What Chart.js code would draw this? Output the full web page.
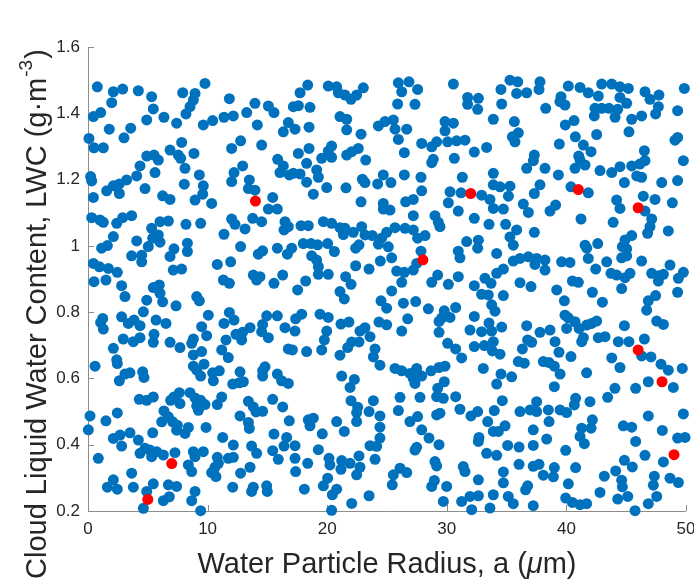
<!DOCTYPE html>
<html>
<head>
<meta charset="utf-8">
<title>LWC vs radius</title>
<script src="https://cdn.jsdelivr.net/npm/chart.js@4"></script>
<style>
    html, body { margin: 0; padding: 0; background: #fff; }
    #wrap { width: 694px; height: 583px; }
</style>
</head>
<body>
<div id="wrap"><canvas id="lwc-chart" width="694" height="583"></canvas></div>
<script>
// 散点数据 [半径 a (μm), LWC (g·m^-3)]
const bluePoints = [
    [0.78,1.480],[2.12,1.465],[2.90,1.473],[4.21,1.468],[5.32,1.450],[5.46,1.413],[7.92,1.462],[8.95,1.460],[8.81,1.440],[8.53,1.420],
    [8.19,1.398],[9.78,1.490],[1.98,1.432],[0.45,1.390],[1.06,1.402],[1.78,1.352],[3.57,1.355],[3.01,1.326],[4.91,1.380],[6.35,1.388],
    [7.41,1.370],[9.64,1.365],[10.42,1.378],[11.37,1.388],[12.15,1.392],[13.27,1.402],[13.96,1.430],[11.82,1.444],[15.08,1.422],[15.55,1.402],
    [14.16,1.365],[16.33,1.344],[16.75,1.372],[0.08,1.324],[0.50,1.296],[1.28,1.296],[7.83,1.312],[6.86,1.289],[7.55,1.274],[7.75,1.264],
    [8.86,1.279],[4.91,1.271],[5.52,1.274],[5.88,1.259],[4.35,1.241],[5.60,1.221],[8.11,1.234],[9.31,1.214],[12.01,1.294],[12.76,1.317],
    [14.52,1.304],[12.93,1.241],[12.21,1.221],[12.01,1.194],[13.49,1.199],[13.41,1.173],[13.96,1.168],[15.86,1.261],[16.33,1.241],[16.05,1.221],
    [16.83,1.214],[0.22,1.209],[0.31,1.196],[0.45,1.146],[1.56,1.166],[2.12,1.181],[2.62,1.187],[3.23,1.199],[4.07,1.211],[2.62,1.158],
    [4.77,1.173],[6.24,1.151],[6.86,1.140],[8.05,1.186],[9.64,1.181],[9.59,1.156],[8.95,1.138],[10.34,1.128],[15.44,1.146],
    [18.37,1.485],[17.73,1.462],[20.09,1.482],[20.79,1.480],[20.93,1.462],[21.49,1.455],[21.99,1.442],[22.46,1.455],[23.02,1.477],[25.95,1.492],
    [26.84,1.495],[26.23,1.465],[27.56,1.472],[30.55,1.488],[31.74,1.448],[32.64,1.445],[31.74,1.427],[32.58,1.412],[33.89,1.382],[17.17,1.420],
    [17.59,1.423],[18.56,1.418],[25.89,1.428],[27.34,1.427],[21.07,1.390],[21.63,1.382],[17.31,1.352],[18.48,1.358],[21.63,1.350],[22.83,1.337],
    [24.28,1.362],[24.83,1.375],[25.53,1.380],[25.67,1.352],[26.65,1.352],[25.95,1.321],[29.85,1.375],[30.55,1.370],[29.85,1.347],[27.90,1.309],
    [28.74,1.299],[29.15,1.314],[30.07,1.314],[30.82,1.317],[31.52,1.319],[32.30,1.283],[33.33,1.297],[20.37,1.301],[20.09,1.286],[19.54,1.264],
    [20.37,1.267],[21.63,1.274],[22.05,1.284],[22.60,1.294],[23.22,1.259],[18.48,1.294],[17.59,1.279],[18.28,1.249],[26.45,1.281],[28.87,1.261],
    [28.74,1.251],[30.63,1.264],[17.17,1.219],[17.73,1.217],[19.12,1.229],[19.26,1.207],[18.28,1.192],[19.96,1.176],[18.84,1.156],[21.57,1.175],
    [22.94,1.201],[23.16,1.191],[24.22,1.187],[24.69,1.214],[25.33,1.191],[26.45,1.214],[27.84,1.207],[27.90,1.166],[31.30,1.207],[30.27,1.163],
    [31.19,1.160],[32.91,1.153],[33.61,1.140],[33.89,1.184],[33.89,1.219],[22.83,1.133],[24.69,1.128],[26.56,1.133],[27.20,1.140],[30.13,1.130],
    [35.28,1.500],[35.93,1.495],[37.79,1.495],[37.71,1.472],[34.53,1.472],[35.84,1.460],[36.68,1.462],[34.59,1.428],[40.16,1.482],[41.14,1.478],
    [41.83,1.462],[42.95,1.488],[43.79,1.488],[44.48,1.480],[45.18,1.475],[42.67,1.452],[44.48,1.448],[45.04,1.430],[46.57,1.465],[46.99,1.442],
    [47.74,1.455],[49.86,1.475],[39.55,1.450],[39.46,1.435],[39.88,1.425],[38.27,1.415],[42.39,1.415],[42.95,1.415],[43.56,1.415],[44.29,1.412],
    [42.33,1.392],[44.07,1.388],[45.46,1.382],[46.29,1.392],[47.69,1.420],[47.46,1.398],[49.30,1.408],[35.65,1.375],[35.98,1.341],[35.48,1.329],
    [35.70,1.314],[39.91,1.365],[40.64,1.378],[40.75,1.329],[42.53,1.336],[45.23,1.344],[39.41,1.307],[41.42,1.304],[42.06,1.284],[41.03,1.271],
    [41.14,1.259],[41.56,1.244],[40.72,1.234],[37.32,1.274],[37.24,1.257],[36.68,1.234],[38.21,1.234],[34.45,1.178],[35.28,1.180],[39.33,1.214],
    [37.79,1.184],[37.32,1.158],[35.15,1.150],[42.81,1.227],[43.79,1.221],[44.48,1.239],[45.46,1.241],[46.15,1.247],[46.57,1.257],[46.52,1.287],
    [45.88,1.211],[46.29,1.207],[44.85,1.191],[47.97,1.191],[49.30,1.197],[49.08,1.319],[49.30,1.327],[49.78,1.257],[40.38,1.178],[41.83,1.160],
    [44.20,1.138],[46.43,1.150],[47.41,1.140],[48.86,1.130],[36.40,1.126],[39.10,1.123],
    [0.31,1.085],[1.00,1.078],[1.28,1.071],[2.40,1.068],[2.90,1.085],[3.65,1.091],[6.02,1.073],[6.72,1.075],[8.19,1.065],[9.42,1.068],
    [12.01,1.081],[12.29,1.065],[13.13,1.051],[13.77,1.083],[14.52,1.073],[15.08,1.111],[15.83,1.111],[16.47,1.073],[16.39,1.048],[16.75,1.058],
    [2.12,1.028],[1.14,0.993],[1.62,1.001],[3.65,0.970],[4.07,1.015],[4.49,0.972],[4.49,0.952],[5.04,0.998],[5.32,1.053],[5.41,1.023],
    [5.88,1.033],[6.02,1.011],[7.19,0.991],[6.86,0.968],[8.31,1.008],[8.31,0.983],[11.37,1.035],[12.76,0.998],[14.24,0.975],[14.60,0.985],
    [15.83,0.993],[16.67,0.975],[0.45,0.947],[0.95,0.937],[1.70,0.932],[2.45,0.920],[0.50,0.892],[1.50,0.897],[2.81,0.880],[3.09,0.847],
    [7.13,0.927],[7.83,0.930],[10.81,0.944],[11.93,0.952],[11.32,0.897],[11.82,0.887],[13.82,0.912],[14.38,0.907],[14.10,0.897],[15.55,0.887],
    [16.28,0.912],[5.46,0.874],[5.96,0.882],[6.02,0.857],[6.24,0.831],[4.91,0.836],[4.63,0.801],[7.36,0.819],[9.09,0.847],[9.31,0.834],
    [1.23,0.781],[1.06,0.769],[1.28,0.749],[2.81,0.786],[3.37,0.766],[3.85,0.776],[4.35,0.759],[5.69,0.776],[6.52,0.766],[10.06,0.791],
    [9.50,0.756],[9.92,0.729],[11.37,0.766],[11.82,0.799],[12.21,0.776],[13.55,0.753],[14.60,0.763],[14.94,0.789],[14.52,0.741],[15.83,0.789],
    [16.47,0.753],[2.95,0.719],[3.79,0.711],[4.35,0.723],[5.52,0.733],[5.46,0.709],[6.86,0.709],[7.69,0.693],[8.81,0.719],[8.67,0.706],
    [9.50,0.681],[2.12,0.691],[11.54,0.716],[12.37,0.733],[12.93,0.739],[12.85,0.716],[15.08,0.723],[11.18,0.686],[11.73,0.663],[16.75,0.689],
    [2.40,0.656],
    [24.69,1.111],[25.25,1.108],[27.20,1.091],[29.01,1.091],[29.29,1.071],[29.43,1.058],[30.96,1.105],[32.30,1.083],[33.53,1.065],[33.89,1.113],
    [17.81,1.061],[18.42,1.061],[19.68,1.073],[20.37,1.068],[21.07,1.055],[21.49,1.053],[21.35,1.034],[22.18,1.041],[22.88,1.058],[23.16,1.033],
    [23.77,1.031],[24.55,1.023],[24.97,1.041],[25.67,1.055],[26.51,1.053],[27.20,1.048],[27.56,1.023],[28.18,1.031],[25.11,0.997],[24.28,1.005],
    [22.66,1.003],[22.38,0.993],[20.60,0.983],[20.04,1.007],[19.20,1.003],[18.65,1.007],[18.00,1.007],[17.03,0.993],[18.70,0.970],[19.12,0.957],
    [19.26,0.937],[19.26,0.914],[20.09,0.914],[22.38,0.940],[23.50,0.930],[24.44,0.954],[25.39,0.964],[25.81,0.924],[26.45,0.920],[27.20,0.927],
    [27.48,0.947],[27.84,0.984],[26.23,0.890],[18.20,0.894],[17.53,0.867],[21.07,0.862],[21.54,0.907],[21.99,0.884],[21.43,0.840],[24.50,0.834],
    [24.97,0.812],[25.39,0.864],[26.37,0.827],[27.40,0.832],[28.46,0.810],[28.74,0.890],[29.24,0.912],[30.13,0.884],[30.96,0.907],[31.66,1.013],
    [30.96,0.984],[31.10,0.964],[32.64,1.017],[32.58,0.993],[32.30,0.880],[33.19,0.902],[33.70,0.887],[33.47,0.852],[32.91,0.854],[33.75,0.822],
    [29.79,0.804],[30.74,0.814],[29.57,0.782],[29.35,0.772],[30.27,0.784],[32.30,0.787],[19.40,0.794],[20.09,0.784],[17.87,0.794],[17.36,0.780],
    [17.31,0.743],[21.15,0.764],[21.82,0.770],[24.33,0.770],[24.97,0.762],[26.73,0.780],[26.23,0.743],[22.74,0.743],[23.16,0.753],[23.58,0.726],
    [19.96,0.743],[19.76,0.716],[22.05,0.710],[22.66,0.710],[29.35,0.739],[31.94,0.746],[32.91,0.741],[33.75,0.743],[30.07,0.706],[30.74,0.689],
    [32.30,0.696],[33.14,0.699],[33.89,0.711],[17.09,0.686],[18.28,0.681],[19.54,0.686],[21.07,0.670],[24.00,0.689],[23.86,0.665],[21.71,0.693],
    [31.24,0.662],
    [36.82,1.101],[38.63,1.105],[34.73,1.111],[44.48,1.113],[46.57,1.105],[47.13,1.081],[46.99,1.058],[46.79,1.038],[48.52,1.045],[41.22,1.081],
    [43.91,1.071],[45.46,1.031],[44.90,1.018],[44.68,0.998],[45.04,0.991],[44.62,0.964],[45.04,0.970],[34.92,1.065],[35.84,1.048],[35.28,1.027],
    [35.56,1.002],[37.32,1.041],[34.17,0.977],[41.56,1.002],[41.70,0.993],[42.62,1.007],[41.83,0.962],[43.37,0.952],[42.45,0.930],[43.73,0.917],
    [44.20,0.912],[44.90,0.904],[45.32,0.917],[44.62,0.871],[46.29,0.954],[48.66,0.942],[49.78,0.920],[49.36,0.902],[47.13,0.917],[47.69,0.910],
    [48.11,0.914],[47.69,0.894],[49.30,0.860],[35.56,0.954],[36.12,0.962],[36.82,0.967],[37.51,0.962],[38.21,0.957],[37.37,0.944],[38.21,0.927],
    [39.60,0.952],[40.30,0.950],[34.73,0.930],[34.17,0.917],[36.12,0.889],[37.04,0.877],[39.19,0.867],[40.50,0.894],[41.00,0.890],[42.17,0.860],
    [43.01,0.830],[39.83,0.834],[34.73,0.850],[34.03,0.803],[39.88,0.791],[40.16,0.783],[40.72,0.771],[41.70,0.761],[42.53,0.773],[42.11,0.766],
    [41.06,0.751],[46.85,0.834],[47.46,0.850],[46.71,0.806],[47.55,0.773],[48.11,0.763],[44.85,0.759],[36.68,0.759],[37.79,0.739],[34.59,0.755],
    [33.53,0.767],[38.63,0.746],[39.05,0.711],[36.76,0.716],[37.10,0.709],[40.02,0.751],[41.42,0.723],[41.28,0.711],[42.67,0.723],[43.23,0.726],
    [44.34,0.711],[45.23,0.711],[46.52,0.719],[33.81,0.683],[34.45,0.673],[36.32,0.689],[39.38,0.679],[40.38,0.666],[43.79,0.662],[46.29,0.668],
    [47.07,0.665],
    [8.81,0.671],[0.59,0.637],[2.45,0.645],[3.09,0.613],[3.51,0.617],[2.62,0.593],[4.57,0.620],[4.68,0.603],[8.81,0.637],[9.09,0.625],
    [9.70,0.643],[10.42,0.617],[10.48,0.593],[10.98,0.623],[9.42,0.607],[12.71,0.620],[12.10,0.583],[12.65,0.587],[12.99,0.590],[14.60,0.623],
    [14.60,0.607],[14.80,0.635],[15.83,0.613],[16.19,0.593],[16.75,0.585],[4.29,0.537],[4.91,0.534],[5.46,0.544],[6.91,0.534],[7.19,0.544],
    [7.64,0.557],[8.53,0.557],[8.95,0.541],[9.42,0.534],[9.23,0.504],[9.78,0.521],[9.09,0.517],[7.69,0.524],[11.18,0.544],[10.81,0.521],
    [13.41,0.531],[13.82,0.514],[14.05,0.499],[14.60,0.501],[15.44,0.537],[16.28,0.514],[16.83,0.472],[0.17,0.487],[0.03,0.445],[1.50,0.472],
    [2.45,0.496],[6.35,0.502],[6.16,0.469],[6.72,0.484],[7.08,0.469],[7.47,0.459],[7.41,0.444],[8.11,0.434],[8.39,0.452],[9.87,0.452],
    [5.41,0.436],[3.51,0.436],[2.68,0.429],[2.12,0.419],[2.81,0.396],[12.71,0.487],[13.41,0.467],[13.49,0.449],[15.55,0.432],[16.61,0.422],
    [16.39,0.396],[11.26,0.422],[12.15,0.399],[13.68,0.396],[14.10,0.374],[15.44,0.382],[15.91,0.356],[0.86,0.359],[4.21,0.414],[4.35,0.374],
    [4.77,0.389],[5.18,0.384],[5.32,0.364],[5.74,0.379],[6.30,0.369],[7.27,0.376],[8.81,0.379],[9.64,0.379],[8.95,0.364],[10.81,0.362],
    [10.90,0.344],[11.73,0.359],[12.15,0.362],[8.39,0.339],[8.67,0.319],[10.34,0.316],[10.70,0.304],[10.62,0.332],[12.76,0.314],[13.55,0.332],
    [3.65,0.314],[2.12,0.294],[1.62,0.272],[2.45,0.266],[3.79,0.272],[5.46,0.282],[6.72,0.279],[7.41,0.274],[8.95,0.259],[8.67,0.231],
    [12.10,0.272],[13.68,0.259],[13.82,0.272],[14.94,0.276],[14.99,0.259],[6.80,0.243],[6.30,0.231],[4.91,0.259],[4.63,0.208],[9.42,0.201],
    [24.41,0.640],[25.67,0.630],[26.23,0.623],[26.92,0.615],[27.48,0.630],[27.20,0.600],[27.34,0.585],[27.90,0.607],[28.68,0.623],[29.35,0.633],
    [29.85,0.637],[33.05,0.630],[21.21,0.607],[22.27,0.597],[21.91,0.573],[29.79,0.590],[29.24,0.570],[29.15,0.545],[29.71,0.540],[30.74,0.545],
    [26.09,0.543],[27.76,0.543],[23.86,0.533],[21.99,0.533],[22.55,0.513],[22.46,0.497],[23.50,0.500],[24.41,0.487],[25.95,0.503],[31.10,0.507],
    [32.02,0.487],[32.58,0.500],[33.42,0.470],[33.89,0.440],[29.15,0.490],[29.43,0.495],[27.56,0.485],[26.92,0.470],[27.90,0.445],[28.51,0.420],
    [29.35,0.400],[24.41,0.453],[24.41,0.420],[24.14,0.395],[23.58,0.397],[22.46,0.470],[21.43,0.440],[20.79,0.470],[18.42,0.475],[18.84,0.480],
    [18.56,0.457],[19.59,0.433],[17.31,0.397],[19.26,0.385],[17.31,0.359],[18.37,0.344],[17.36,0.319],[20.15,0.359],[20.23,0.339],[21.21,0.352],
    [21.91,0.344],[22.66,0.366],[22.74,0.332],[22.46,0.309],[21.15,0.326],[24.00,0.356],[27.34,0.384],[27.48,0.392],[29.01,0.349],[29.15,0.336],
    [32.69,0.422],[32.64,0.410],[33.33,0.374],[31.38,0.334],[31.52,0.319],[32.64,0.294],[26.09,0.329],[26.65,0.316],[25.53,0.309],[25.44,0.279],
    [20.04,0.299],[19.68,0.276],[20.79,0.266],[20.43,0.249],[18.09,0.266],[22.05,0.223],[23.50,0.246],[28.74,0.274],[28.96,0.292],[29.99,0.274],
    [29.71,0.229],[31.24,0.229],[31.94,0.244],[32.64,0.246],[32.08,0.204],[33.61,0.209],[33.89,0.249],[20.37,0.202],
    [35.98,0.651],[36.48,0.646],[38.07,0.651],[38.55,0.648],[38.99,0.637],[39.47,0.613],[41.69,0.617],[44.48,0.633],[47.91,0.643],[48.52,0.625],
    [49.69,0.630],[34.53,0.613],[35.42,0.605],[34.17,0.583],[38.99,0.575],[44.06,0.570],[43.45,0.543],[45.79,0.570],[46.85,0.590],[48.94,0.573],
    [34.64,0.533],[33.97,0.503],[34.31,0.440],[34.87,0.457],[36.12,0.500],[36.96,0.505],[37.51,0.500],[37.51,0.530],[38.49,0.505],[38.55,0.470],
    [39.47,0.505],[40.02,0.497],[40.66,0.520],[40.77,0.540],[41.97,0.530],[42.17,0.475],[42.06,0.450],[41.28,0.450],[41.14,0.425],[41.50,0.403],
    [37.23,0.445],[38.35,0.417],[49.78,0.493],[46.85,0.487],[44.76,0.457],[45.46,0.453],[48.02,0.443],[45.79,0.410],[49.30,0.420],[49.92,0.422],
    [34.17,0.368],[35.09,0.398],[36.04,0.393],[37.23,0.398],[39.94,0.383],[46.57,0.368],[48.11,0.348],[44.85,0.353],[45.51,0.333],[36.04,0.341],
    [37.23,0.335],[37.71,0.341],[34.73,0.318],[34.73,0.285],[38.07,0.308],[38.91,0.303],[38.99,0.331],[40.77,0.331],[40.16,0.282],[43.17,0.305],
    [44.12,0.321],[44.62,0.293],[44.68,0.273],[47.35,0.305],[47.27,0.278],[48.66,0.299],[49.36,0.286],[36.76,0.276],[36.59,0.264],[35.14,0.244],
    [35.56,0.222],[37.23,0.216],[39.94,0.239],[40.50,0.226],[41.14,0.219],[41.69,0.222],[42.81,0.256],[44.29,0.236],[45.13,0.244],[45.74,0.201],
    [46.85,0.222],[47.55,0.244]
];

// 红色标记点
const redX = [5, 7, 14, 28, 32, 41, 46, 46, 48, 49];
const redY = [0.235, 0.343, 1.135, 0.958, 1.158, 1.170, 1.115, 0.686, 0.590, 0.370];

// 刻度
const xTicks = [0, 10, 20, 30, 40, 50];
const xTickLabels = ['0', '10', '20', '30', '40', '50'];
const yTicks = [0.2, 0.4, 0.6, 0.8, 1.0, 1.2, 1.4, 1.6];
const yTickLabels = ['0.2', '0.4', '0.6', '0.8', '1', '1.2', '1.4', '1.6'];

const FONT = '"Liberation Sans", Arial, Helvetica, sans-serif';
const TEXT_COLOR = '#262626';
const AXIS_COLOR = '#8c8c8c';
const TITLE_SIZE = 29;

// 坐标轴线和朝内的刻度线（画在点的下面）
const axesPlugin = {
    id: 'matlabAxes',
    beforeDatasetsDraw(chart) {
        const ctx = chart.ctx;
        const area = chart.chartArea;
        const xs = chart.scales.x;
        const ys = chart.scales.y;
        ctx.save();
        ctx.strokeStyle = AXIS_COLOR;
        ctx.lineWidth = 1;
        ctx.beginPath();
        ctx.moveTo(Math.round(area.left) + 0.5, area.top);
        ctx.lineTo(Math.round(area.left) + 0.5, Math.round(area.bottom) + 0.5);
        ctx.lineTo(area.right, Math.round(area.bottom) + 0.5);
        xTicks.forEach(v => {
            const px = Math.round(xs.getPixelForValue(v)) + 0.5;
            ctx.moveTo(px, Math.round(area.bottom));
            ctx.lineTo(px, Math.round(area.bottom) - 6);
        });
        yTicks.forEach(v => {
            const py = Math.round(ys.getPixelForValue(v)) + 0.5;
            ctx.moveTo(Math.round(area.left), py);
            ctx.lineTo(Math.round(area.left) + 6, py);
        });
        ctx.stroke();
        ctx.restore();
    },
    afterDraw(chart) {
        const ctx = chart.ctx;
        const area = chart.chartArea;
        ctx.save();
        ctx.fillStyle = TEXT_COLOR;
        ctx.textBaseline = 'alphabetic';
        ctx.textAlign = 'left';
        const big = TITLE_SIZE + 'px ' + FONT;
        const bigItalic = 'italic ' + TITLE_SIZE + 'px ' + FONT;
        const small = '19px ' + FONT;

        // x 轴标题
        const xMain = 'Water Particle Radius, a (';
        const xMu = '\u03bc';
        const xEnd = 'm)';
        ctx.font = big;
        const w1 = ctx.measureText(xMain).width;
        const w3 = ctx.measureText(xEnd).width;
        ctx.font = bigItalic;
        const w2 = ctx.measureText(xMu).width;
        const x0 = (area.left + area.right) / 2 - (w1 + w2 + w3) / 2;
        const xBase = 573;
        ctx.font = big;
        ctx.fillText(xMain, x0, xBase);
        ctx.font = bigItalic;
        ctx.fillText(xMu, x0 + w1, xBase);
        ctx.font = big;
        ctx.fillText(xEnd, x0 + w1 + w2, xBase);

        // y 轴标题（带上标 -3）
        const yMain = 'Cloud Liquid Water Content, LWC (g\u00b7m';
        const ySup = '-3';
        const yEnd = ')';
        ctx.font = big;
        const m1 = ctx.measureText(yMain).width;
        ctx.font = small;
        const m2 = ctx.measureText(ySup).width;
        ctx.translate(46, 579);
        ctx.rotate(-Math.PI / 2);
        ctx.font = big;
        ctx.fillText(yMain, 0, 0);
        ctx.font = small;
        ctx.fillText(ySup, m1 + 1, -14);
        ctx.font = big;
        ctx.fillText(yEnd, m1 + m2 + 2, 0);
        ctx.restore();
    }
};

const chart = new Chart(document.getElementById('lwc-chart'), {
    type: 'scatter',
    data: {
        datasets: [
            {
                label: 'red',
                data: redX.map((x, i) => ({ x: x, y: redY[i] })),
                backgroundColor: '#ff0000',
                borderWidth: 0,
                pointRadius: 5.5,
                clip: false
            },
            {
                label: 'blue',
                data: bluePoints.map(p => ({ x: p[0], y: p[1] })),
                backgroundColor: '#0072bd',
                borderWidth: 0,
                pointRadius: 5.5,
                clip: false
            }
        ]
    },
    options: {
        responsive: false,
        animation: false,
        events: [],
        layout: { padding: { left: 0, right: 8, top: 47, bottom: 0 } },
        plugins: {
            legend: { display: false },
            tooltip: { enabled: false }
        },
        scales: {
            x: {
                type: 'linear',
                min: 0,
                max: 50,
                afterBuildTicks: s => { s.ticks = xTicks.map(v => ({ value: v })); },
                afterFit: s => {
                    s.height = 72;
                    s.paddingLeft = 0;
                    s.paddingRight = 0;
                },
                grid: { display: false, drawTicks: false },
                border: { display: false },
                ticks: {
                    autoSkip: false,
                    maxRotation: 0,
                    padding: 8,
                    color: TEXT_COLOR,
                    font: { family: FONT, size: 17 },
                    callback: (v, i) => xTickLabels[i]
                }
            },
            y: {
                type: 'linear',
                min: 0.2,
                max: 1.6,
                afterBuildTicks: s => { s.ticks = yTicks.map(v => ({ value: v })); },
                afterFit: s => {
                    s.width = 88;
                    s.paddingTop = 0;
                    s.paddingBottom = 0;
                },
                grid: { display: false, drawTicks: false },
                border: { display: false },
                ticks: {
                    autoSkip: false,
                    padding: 8,
                    color: TEXT_COLOR,
                    font: { family: FONT, size: 17 },
                    callback: (v, i) => yTickLabels[i]
                }
            }
        }
    },
    plugins: [axesPlugin]
});
</script>
</body>
</html>
